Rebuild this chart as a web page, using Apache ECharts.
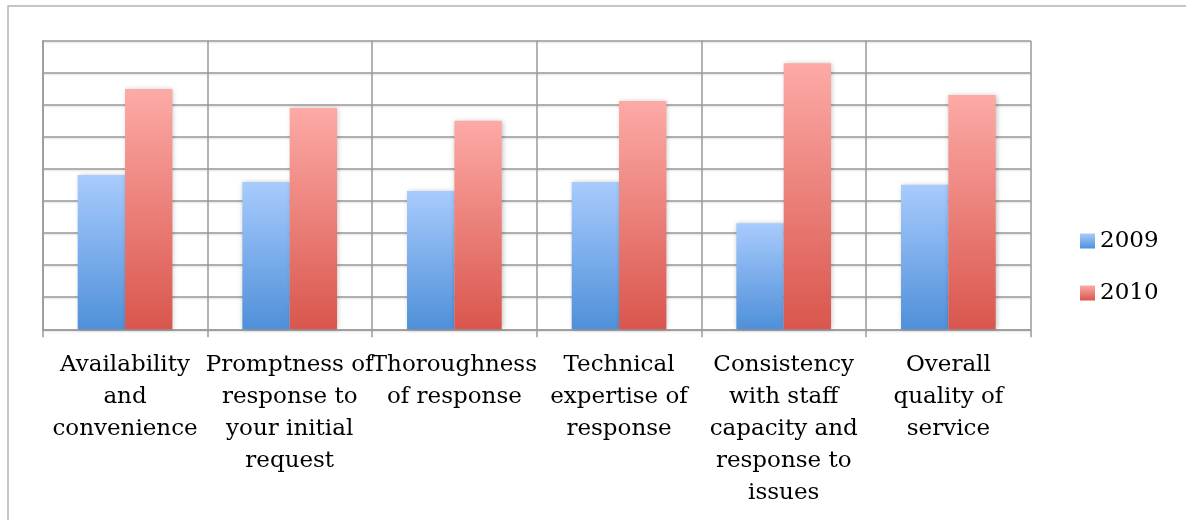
<!DOCTYPE html>
<html>
<head>
<meta charset="utf-8">
<script src="https://cdn.jsdelivr.net/npm/echarts@6/dist/echarts.min.js"></script>
<style>
  html, body { margin: 0; padding: 0; background: #fff; }
  #chart { width: 1186px; height: 520px; }
</style>
</head>
<body>
<div id="chart"></div>
<script>
const categories = [
  "Availability\nand\nconvenience",
  "Promptness of\nresponse to\nyour initial\nrequest",
  "Thoroughness\nof response",
  "Technical\nexpertise of\nresponse",
  "Consistency\nwith staff\ncapacity and\nresponse to\nissues",
  "Overall\nquality of\nservice",
];
const values2009 = [4.81, 4.59, 4.31, 4.59, 3.31, 4.51];
const values2010 = [7.49, 6.9, 6.5, 7.12, 8.3, 7.31];

const gridColor = "#9a9a9a";
const fontFamily = "DejaVu Serif";

function grad(top, bottom) {
  return new echarts.graphic.LinearGradient(0, 0, 0, 1, [
    { offset: 0, color: top },
    { offset: 1, color: bottom },
  ]);
}

const barShadow = {
  shadowBlur: 5,
  shadowColor: "rgba(0,0,0,0.25)",
  shadowOffsetX: 1,
  shadowOffsetY: 0,
};

const chart = echarts.init(document.getElementById("chart"));
chart.setOption({
  animation: false,
  backgroundColor: "#fff",
  graphic: [
    {
      type: "rect",
      shape: { x: 8, y: 6, width: 1300, height: 700 },
      style: { fill: "none", stroke: "#b4b4b4", lineWidth: 1.5 },
      silent: true,
    },
  ],
  grid: { left: 42.7, top: 40.7, right: 155.3, bottom: 190.7 },
  legend: {
    orient: "vertical",
    left: 1080,
    top: 229,
    padding: 0,
    itemWidth: 15,
    itemHeight: 15,
    itemGap: 28,
    icon: "rect",
    textStyle: { fontFamily, fontSize: 23, lineHeight: 24, color: "#000" },
    data: ["2009", "2010"],
  },
  xAxis: {
    type: "category",
    data: categories,
    axisLine: { lineStyle: { color: gridColor, width: 1.5 } },
    axisTick: { show: true, length: 8, lineStyle: { color: gridColor, width: 1.5 } },
    splitLine: { show: true, lineStyle: { color: gridColor, width: 1.5 } },
    axisLabel: {
      interval: 0,
      margin: 20,
      fontFamily,
      fontSize: 23,
      lineHeight: 32,
      color: "#000",
      align: "center",
    },
  },
  yAxis: {
    type: "value",
    min: 0,
    max: 9,
    interval: 1,
    axisLabel: { show: false },
    axisTick: { show: false },
    axisLine: { show: true, lineStyle: { color: gridColor, width: 1.5 } },
    splitLine: {
      show: true,
      lineStyle: {
        color: gridColor,
        width: 1.5,
        shadowBlur: 2,
        shadowOffsetY: 1,
        shadowColor: "rgba(0,0,0,0.15)",
      },
    },
  },
  series: [
    {
      name: "2009",
      type: "bar",
      data: values2009,
      barGap: "0%",
      barCategoryGap: "42.5%",
      itemStyle: Object.assign({ color: grad("#a8cbfd", "#4f90d9") }, barShadow),
    },
    {
      name: "2010",
      type: "bar",
      data: values2010,
      itemStyle: Object.assign({ color: grad("#fdaaa6", "#d9564d") }, barShadow),
    },
  ],
});
</script>
</body>
</html>
